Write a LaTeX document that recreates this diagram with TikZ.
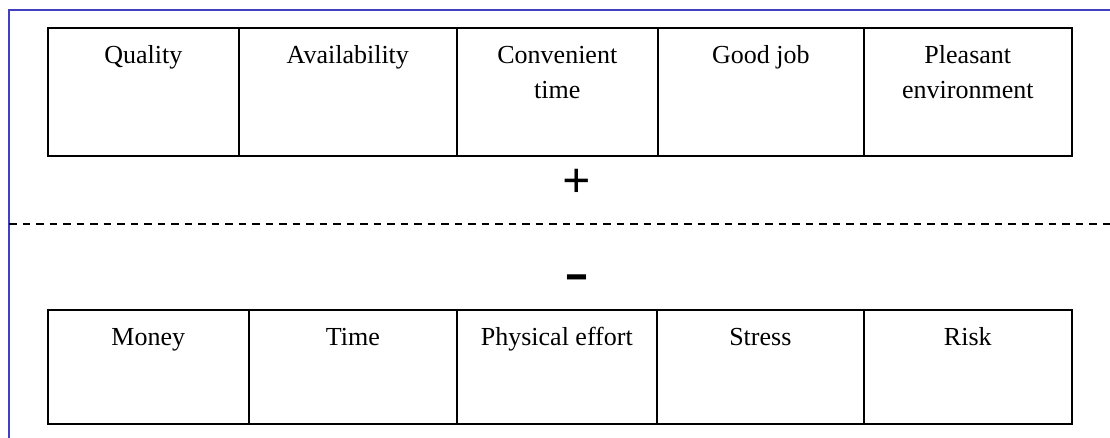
\documentclass[tikz,border=0pt]{standalone}
\usepackage{fontspec}
\setmainfont{Liberation Serif}
\newfontfamily\signsans{Liberation Sans}
\definecolor{framecol}{RGB}{64,64,192}
\begin{document}
\begin{tikzpicture}[x=1pt,y=-1pt,
  cell/.style={draw=black, line width=1.6pt, inner sep=0pt, anchor=north west},
  celltext/.style={anchor=north, inner sep=0pt, align=center, font=\fontsize{26}{35}\selectfont},
  framebar/.style={draw=framecol, line width=1.5pt},
  divider/.style={draw=black, line width=1.5pt, dash pattern=on 7.5pt off 6pt}]
\useasboundingbox (0,0) rectangle (1110,438);
% frame
\draw[framebar] (1110,10) -- (9,10) -- (9,438);
% top row
\node[cell, minimum width=191pt, minimum height=128pt] (q) at (47,27) {};
\node[cell, minimum width=218pt, minimum height=128pt] (av) at (238,27) {};
\node[cell, minimum width=201pt, minimum height=128pt] (ct) at (456,27) {};
\node[cell, minimum width=206pt, minimum height=128pt] (gj) at (657,27) {};
\node[cell, minimum width=208pt, minimum height=128pt] (pe) at (863,27) {};
\node[celltext] at ([yshift=-11.5pt]q.north) {\strut Quality};
\node[celltext] at ([yshift=-11.5pt]av.north) {\strut Availability};
\node[celltext] at ([yshift=-11.5pt]ct.north) {\strut Convenient\\time};
\node[celltext] at ([yshift=-11.5pt]gj.north) {\strut Good job};
\node[celltext] at ([yshift=-11.5pt]pe.north) {\strut Pleasant\\environment};
% signs
\node[inner sep=0pt, font=\bfseries\fontsize{50}{50}\selectfont] (plus) at (577,183) {+};
\node[inner sep=0pt, font=\signsans\bfseries\fontsize{43}{43}\selectfont] (minus) at (577.5,282) {\scalebox{1.75}[1]{-}};
% divider
\draw[divider] (9,224) -- (1110,224);
% bottom row
\node[cell, minimum width=201pt, minimum height=114pt] (mo) at (47,309) {};
\node[cell, minimum width=208pt, minimum height=114pt] (ti) at (248,309) {};
\node[cell, minimum width=200pt, minimum height=114pt] (ph) at (456,309) {};
\node[cell, minimum width=207pt, minimum height=114pt] (st) at (656,309) {};
\node[cell, minimum width=208pt, minimum height=114pt] (ri) at (863,309) {};
\node[celltext] at ([yshift=-11.5pt]mo.north) {\strut Money};
\node[celltext] at ([yshift=-11.5pt]ti.north) {\strut Time};
\node[celltext] at ([yshift=-11.5pt]ph.north) {\strut Physical effort};
\node[celltext] at ([yshift=-11.5pt]st.north) {\strut Stress};
\node[celltext] at ([yshift=-11.5pt]ri.north) {\strut Risk};
\end{tikzpicture}
\end{document}
